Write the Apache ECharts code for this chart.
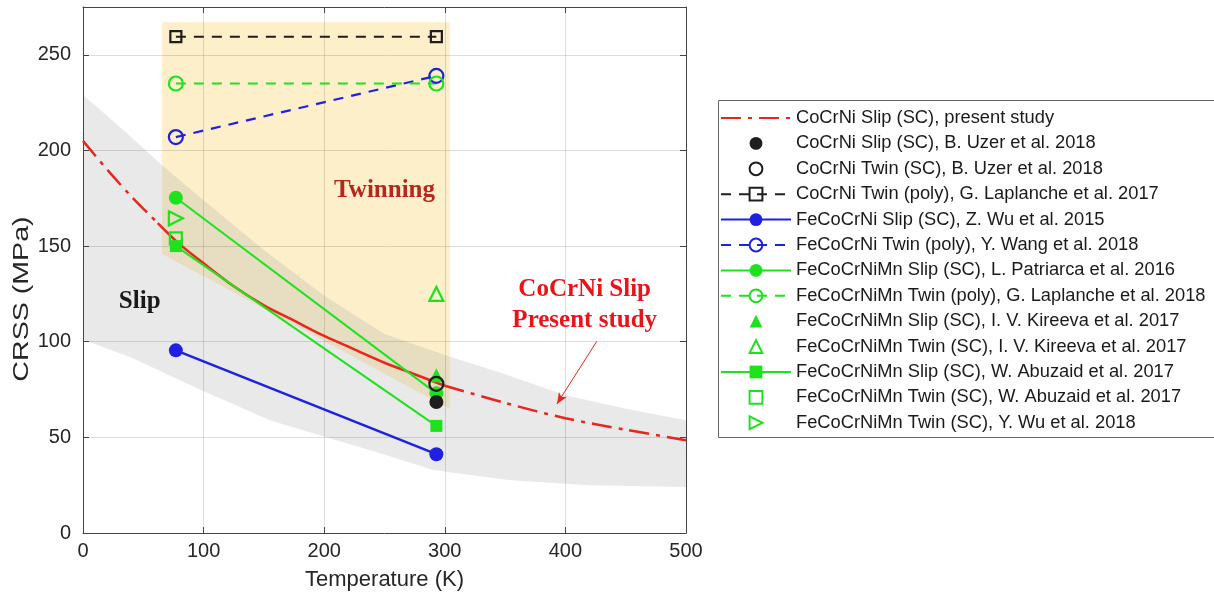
<!DOCTYPE html>
<html>
<head>
<meta charset="utf-8">
<script src="https://cdn.jsdelivr.net/npm/echarts@6/dist/echarts.min.js"></script>
<style>
  html, body { margin: 0; padding: 0; background: #fff; }
  #chart { width: 1214px; height: 600px; }
</style>
</head>
<body>
<div id="chart"></div>
<script>
// ---- data (temperature in K, CRSS in MPa) ----
const tempTicks = [0, 100, 200, 300, 400, 500];
const crssTicks = [0, 50, 100, 150, 200, 250];

// CoCrNi slip, present study: fitted curve (extrapolated / measured / extrapolated)
const presentLowT  = [[0, 205], [20, 190], [40, 176], [62, 162]];
const presentMidT  = [[62, 162], [80, 151], [100, 141], [125, 129], [150, 119], [175, 111],
                      [200, 103], [225, 96], [250, 89], [275, 83], [300, 77]];
const presentHighT = [[300, 77], [350, 68], [400, 60], [450, 54], [500, 48.5]];

// shaded regions
const slipBandUpper = [[0, 229], [33, 211], [66, 192], [100, 174], [150, 148], [200, 124],
                       [250, 104], [300, 93], [350, 83], [400, 72], [450, 65], [500, 59]];
const slipBandLower = [[0, 101], [39, 92], [97, 75], [155, 59], [200, 50.5], [250, 41],
                       [290, 33], [355, 27.6], [420, 25], [500, 24]];
const twinningRegion = [[65.5, 267], [304, 267], [304, 65], [65.5, 146]];

// literature values
const uzerSlip        = [[293, 68.5]];
const uzerTwin        = [[293, 78]];
const laplanche2017   = [[77, 259.5], [293, 259.5]];
const wu2015          = [[77, 95.5], [293, 41.2]];
const wang2018        = [[77, 207], [293, 239]];
const patriarca2016   = [[77, 175.3], [293, 73]];
const laplanche2018   = [[77, 235], [293, 235]];
const kireevaSlip     = [[293, 82.5]];
const kireevaTwin     = [[293, 125]];
const abuzaidSlip     = [[77, 150], [293, 56]];
const abuzaidTwin     = [[77, 154]];
const wuY2018         = [[77, 164.5]];

// series names (legend entries)
const names = [
  'CoCrNi Slip (SC), present study',
  'CoCrNi Slip (SC), B. Uzer et al. 2018',
  'CoCrNi Twin (SC), B. Uzer et al. 2018',
  'CoCrNi Twin (poly), G. Laplanche et al. 2017',
  'FeCoCrNi Slip (SC), Z. Wu et al. 2015',
  'FeCoCrNi Twin (poly), Y. Wang et al. 2018',
  'FeCoCrNiMn Slip (SC), L. Patriarca et al. 2016',
  'FeCoCrNiMn Twin (poly), G. Laplanche et al. 2018',
  'FeCoCrNiMn Slip (SC), I. V. Kireeva et al. 2017',
  'FeCoCrNiMn Twin (SC), I. V. Kireeva et al. 2017',
  'FeCoCrNiMn Slip (SC), W. Abuzaid et al. 2017',
  'FeCoCrNiMn Twin (SC), W. Abuzaid et al. 2017',
  'FeCoCrNiMn Twin (SC), Y. Wu et al. 2018'
];

// ---- styling ----
const SANS = "'Liberation Sans', Arial, Helvetica, sans-serif";
const SERIF = "'Liberation Serif', 'Times New Roman', serif";
const RED = '#e8261e';
const BLACK = '#1e1e1e';
const BLUE = '#2020e2';
const GREEN = '#1ee21e';
const AXIS = '#444';
const DASH = [10, 8];
const DASHDOT = [20, 7, 4, 7];
const NOFILL = 'rgba(0,0,0,0)';

function regionSeries(name, points, style) {
  return {
    name, type: 'custom', coordinateSystem: 'cartesian2d', silent: true, z: 0,
    data: [[0, 0]],
    renderItem: (params, api) => ({
      type: 'polygon',
      shape: { points: points.map(p => api.coord(p)) },
      style
    })
  };
}

function markerStyle(color, filled) {
  return filled ? { color } : { color: NOFILL, borderColor: color, borderWidth: 2.2 };
}

// connected measurements: line with markers
function lineSeries(name, data, color, dash, symbol, size, filled, width, z) {
  return {
    name, type: 'line', data, z: z || 3,
    lineStyle: { color, width: width || 2, type: dash || 'solid' },
    symbol, symbolSize: size, showSymbol: true,
    itemStyle: markerStyle(color, filled),
    emphasis: { disabled: true }, animation: false
  };
}

// single measurements: marker only (no connecting line)
function markerSeries(name, data, color, symbol, size, filled, rotate, z) {
  return {
    name, type: 'line', data, z: z || 4,
    lineStyle: { width: 0, opacity: 0 },
    symbol, symbolSize: size, symbolRotate: rotate || 0, showSymbol: true,
    itemStyle: markerStyle(color, filled),
    emphasis: { disabled: true }, animation: false
  };
}

const bandPolygon = slipBandUpper.concat(slipBandLower.slice().reverse());

const axisCommon = {
  type: 'value',
  axisLine: { show: true, onZero: false, lineStyle: { color: AXIS, width: 1 } },
  axisTick: { show: true, inside: true, length: 6, lineStyle: { color: AXIS } },
  z: 1
};

const option = {
  animation: false,
  backgroundColor: '#fff',
  grid: { left: 83, right: 528, top: 7, bottom: 67, containLabel: false },
  xAxis: [
    Object.assign({}, axisCommon, {
      min: tempTicks[0], max: tempTicks[tempTicks.length - 1], interval: 100,
      position: 'bottom',
      axisLabel: { color: '#262626', fontSize: 20, fontFamily: SANS, margin: 8 },
      splitLine: { show: true, lineStyle: { color: 'rgba(0,0,0,0.13)', width: 1 } },
      name: 'Temperature (K)', nameLocation: 'middle', nameGap: 36,
      nameTextStyle: { color: '#262626', fontSize: 22, fontFamily: SANS }
    }),
    Object.assign({}, axisCommon, {
      min: 0, max: 500, interval: 100, position: 'top',
      axisLabel: { show: false }, splitLine: { show: false }
    })
  ],
  yAxis: [
    Object.assign({}, axisCommon, {
      min: crssTicks[0], max: 275, interval: 50,
      position: 'left',
      axisLabel: { color: '#262626', fontSize: 20, fontFamily: SANS, margin: 12, showMaxLabel: false }
      ,
      splitLine: { show: true, lineStyle: { color: 'rgba(0,0,0,0.13)', width: 1 } }
    }),
    Object.assign({}, axisCommon, {
      min: 0, max: 275, interval: 50, position: 'right',
      axisLabel: { show: false }, splitLine: { show: false }
    })
  ],
  legend: {
    data: names.map((n, i) => i === 0 ? { name: n, itemStyle: { opacity: 0 } } : n),
    orient: 'vertical', left: 720, top: 109,
    itemWidth: 70, itemHeight: 16, itemGap: 7.4, padding: 0,
    selectedMode: false,
    textStyle: { fontSize: 18.3, color: '#1a1a1a', fontFamily: SANS }
  },
  series: [
    regionSeries('twinning region', twinningRegion, { fill: '#fdefca' }),
    regionSeries('slip band', bandPolygon, { fill: 'rgba(171,171,171,0.26)' }),

    // present study curve
    { name: 'present study (low T)', type: 'line', data: presentLowT, symbol: 'none', smooth: 0.3, z: 3,
      lineStyle: { color: RED, width: 2.5, type: DASHDOT }, animation: false },
    { name: 'present study (measured)', type: 'line', data: presentMidT, symbol: 'none', smooth: 0.3, z: 3,
      lineStyle: { color: RED, width: 2.5, type: 'solid' }, animation: false },
    { name: names[0], type: 'line', data: presentHighT, symbol: 'none', smooth: 0.3, z: 3,
      itemStyle: { color: RED, opacity: 0 },
      lineStyle: { color: RED, width: 2.5, type: DASHDOT }, animation: false,
      markLine: {
        silent: true, symbol: ['none', 'arrow'], symbolSize: [7, 11],
        label: { show: false },
        lineStyle: { color: RED, width: 1, type: 'solid', opacity: 1 },
        data: [[{ coord: [426, 100.2] }, { coord: [393, 67.5] }]]
      }
    },

    markerSeries(names[1], uzerSlip, BLACK, 'circle', 14, true, 0, 6),
    markerSeries(names[2], uzerTwin, BLACK, 'circle', 14, false, 0, 7),
    lineSeries(names[3], laplanche2017, BLACK, DASH, 'rect', 11, false, 2),
    lineSeries(names[4], wu2015, BLUE, 'solid', 'circle', 14, true, 2.5),
    lineSeries(names[5], wang2018, BLUE, DASH, 'circle', 14, false, 2.2),
    lineSeries(names[6], patriarca2016, GREEN, 'solid', 'circle', 14, true, 2),
    lineSeries(names[7], laplanche2018, GREEN, DASH, 'circle', 14, false, 2.2),
    markerSeries(names[8], kireevaSlip, GREEN, 'triangle', 14, true, 0, 4),
    markerSeries(names[9], kireevaTwin, GREEN, 'triangle', 14, false, 0, 4),
    lineSeries(names[10], abuzaidSlip, GREEN, 'solid', 'rect', 12, true, 2),
    markerSeries(names[11], abuzaidTwin, GREEN, 'rect', 12, false, 0, 4),
    markerSeries(names[12], wuY2018, GREEN, 'triangle', 14, false, -90, 4)
  ]
};

const chart = echarts.init(document.getElementById('chart'), null, { renderer: 'canvas' });
chart.setOption(option);

// text annotations placed in data coordinates
const notes = [
  { text: 'Twinning', at: [250, 179], color: '#b8261c' },
  { text: 'Slip', at: [47, 121], color: '#1a1a1a' },
  { text: 'CoCrNi Slip', at: [416, 127.5], color: '#e8141a' },
  { text: 'Present study', at: [416, 111.3], color: '#e8141a' }
];
const graphics = notes.map(n => {
  const p = chart.convertToPixel({ gridIndex: 0 }, n.at);
  return {
    type: 'text', x: p[0], y: p[1], z: 10,
    style: { text: n.text, fill: n.color, font: "bold 25px " + SERIF, align: 'center', verticalAlign: 'middle' }
  };
});
// y-axis title (glyphs drawn slightly elongated along the text direction)
graphics.push({
  type: 'text', x: 22, y: 299, rotation: Math.PI / 2, scaleX: 1.3, z: 10,
  style: { text: 'CRSS (MPa)', fill: '#262626', font: '22px ' + SANS, align: 'center', verticalAlign: 'middle' }
});
// legend frame
graphics.push({
  type: 'rect', z: 0, silent: true,
  shape: { x: 718.5, y: 100.5, width: 520, height: 337 },
  style: { fill: '#fff', stroke: '#666', lineWidth: 1 }
});
chart.setOption({ graphic: graphics });
</script>
</body>
</html>
